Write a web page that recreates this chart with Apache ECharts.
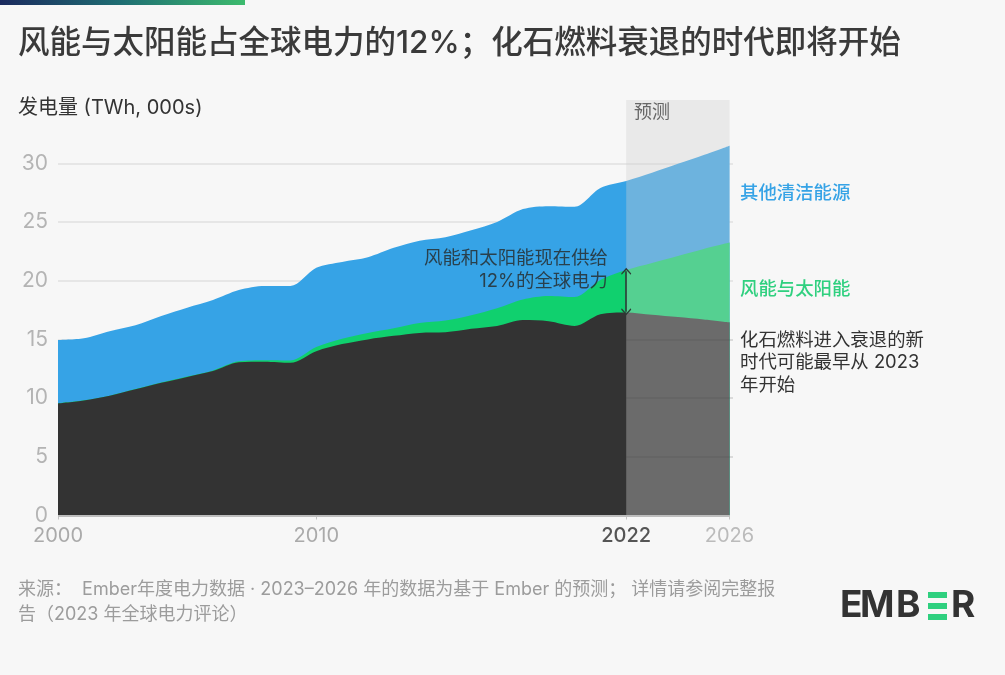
<!DOCTYPE html>
<html><head><meta charset="utf-8">
<style>html,body{margin:0;padding:0;background:#f7f7f7}#c{width:1005px;height:675px}</style>
<script src="https://cdn.jsdelivr.net/npm/echarts@6/dist/echarts.min.js"></script>
</head><body><div id="c"></div>
<script>
const years=[2000,2001,2002,2003,2004,2005,2006,2007,2008,2009,2010,2011,2012,2013,2014,2015,2016,2017,2018,2019,2020,2021,2022,2023,2024,2025,2026];
const fossil=[9.55,9.8,10.2,10.75,11.3,11.8,12.3,13.05,13.1,13.0,14.0,14.6,15.0,15.3,15.55,15.6,15.9,16.15,16.65,16.55,16.15,17.15,17.3,17.1,16.9,16.7,16.45];
const fossilPlusWindSolar=[9.56,9.81,10.21,10.77,11.33,11.84,12.36,13.13,13.22,13.2,14.35,15.05,15.55,15.95,16.4,16.6,17.05,17.65,18.4,18.7,18.6,20.05,20.9,21.5,22.1,22.7,23.25];
const total=[14.95,15.1,15.7,16.2,17.0,17.7,18.35,19.2,19.55,19.55,21.1,21.6,22.0,22.8,23.4,23.7,24.3,25.0,26.1,26.35,26.3,27.9,28.5,29.2,29.95,30.7,31.5];
const xTicks=[2000,2010,2022,2026];
const yTicks=[0,5,10,15,20,25,30];
const titleText='风能与太阳能占全球电力的12%\uFF1B化石燃料衰退的时代即将开始';
const yTitle='发电量 (TWh, 000s)';
const forecastLabel='预测';
const labelOther='其他清洁能源', labelWS='风能与太阳能';
const fossilNote=['化石燃料进入衰退的新','时代可能最早从 2023','年开始'];
const shareNote=['风能和太阳能现在供给','12%的全球电力'];
const sourceNote=['来源\uFF1A  Ember年度电力数据 · 2023–2026 年的数据为基于 Ember 的预测\uFF1B 详情请参阅完整报','告\uFF082023 年全球电力评论\uFF09'];

const CJK='Inter,"Noto Sans CJK SC","Noto Sans",sans-serif';
const LAT='Inter,"Noto Sans CJK SC",sans-serif';
const pair=a=>years.map((y,i)=>[y,a[i]]);
const area=(name,vals,color,z)=>({name,type:'line',data:pair(vals),smooth:0.3,symbol:'none',
  lineStyle:{width:0},areaStyle:{color,opacity:1},z,silent:true});
const txt=(text,x,y,font,fill,align)=>({type:'text',z:20,style:{text,x,y,font,fill,textAlign:align||'left',textVerticalAlign:'middle'}});
const chevron='path://M0 0 L10 8 L9 10 L0 3 L-9 10 L-10 8 Z';
const chart=echarts.init(document.getElementById('c'),null,{renderer:'canvas'});
chart.setOption({
  backgroundColor:'#f7f7f7',animation:false,
  grid:{left:58,right:272,top:100,bottom:159.5},
  xAxis:{type:'value',min:2000,max:2026.135,
    axisLine:{show:false},splitLine:{show:false},
    axisTick:{show:true,customValues:xTicks,length:4,lineStyle:{color:'#c4c4c4',width:1}},
    axisLabel:{customValues:xTicks,margin:10,formatter:v=>v===2022?'{d|'+v+'}':(v===2026?'{l|'+v+'}':'{g|'+v+'}'),
      rich:{d:{fontFamily:LAT,fontSize:20,color:'#555',fontWeight:500},g:{fontFamily:LAT,fontSize:20,color:'#aaa'},l:{fontFamily:LAT,fontSize:20,color:'#bbb'}}}},
  yAxis:{type:'value',min:0,max:35.39,axisLine:{show:false},axisTick:{show:false},
    splitLine:{show:false},
    axisLabel:{customValues:yTicks,margin:10,fontFamily:LAT,fontSize:21,color:'#b4b4b4'}},
  series:[
    {name:'grid',type:'line',data:[[2000,0]],symbol:'none',lineStyle:{width:0},z:1,silent:true,
      markLine:{z:1,silent:true,symbol:'none',label:{show:false},
        data:yTicks.slice(1).map(v=>[{coord:[2000,v],lineStyle:{color:'#e6e6e6',width:2,type:'solid'}},{coord:[2026.135,v]}])}},
    area('其他清洁能源',total,'#36a3e6',2),
    area('风能与太阳能',fossilPlusWindSolar,'#10d06e',3),
    area('化石燃料',fossil,'#333333',4),
    {name:'overlay',type:'line',data:[[2022,0]],symbol:'none',lineStyle:{width:0},z:5,silent:true,
      markArea:{z:10,silent:true,itemStyle:{color:'rgba(208,208,208,0.36)'},data:[[{xAxis:2022,yAxis:0},{xAxis:2026,yAxis:35.39}]]},
      markLine:{z:11,silent:true,symbol:'none',label:{show:false},
        data:[
          [{coord:[2000,0],lineStyle:{color:'#bdbdbd',width:2,type:'solid'}},{coord:[2026,0]}],
          [{coord:[2022,5],lineStyle:{color:'rgba(0,0,0,0.05)',width:2,type:'solid'}},{coord:[2026.135,5]}],
          [{coord:[2022,10],lineStyle:{color:'rgba(0,0,0,0.05)',width:2,type:'solid'}},{coord:[2026.135,10]}],
          [{coord:[2022,15],lineStyle:{color:'rgba(0,0,0,0.05)',width:2,type:'solid'}},{coord:[2026.135,15]}]
        ]}},
    {name:'arrow',type:'line',data:[[2022,17.3],[2022,20.9]],symbol:'none',lineStyle:{width:0},z:6,silent:true,
      markLine:{z:12,silent:true,label:{show:false},symbol:[chevron,chevron],symbolSize:[10,7],
        lineStyle:{color:'#2e3a36',width:1.6,type:'solid'},
        data:[[{coord:[2022,17.35]},{coord:[2022,20.8]}]]}}
  ],
  graphic:[
    {type:'rect',z:20,shape:{x:0,y:0,width:245,height:5},style:{fill:new echarts.graphic.LinearGradient(0,0,1,0,[{offset:0,color:'#1b2a5e'},{offset:0.5,color:'#1f6f73'},{offset:1,color:'#3dbb6e'}])}},
    txt(titleText,18,44,'500 31.5px '+CJK,'#3a3a3a'),
    txt(yTitle,18,108,'400 20px '+CJK,'#333'),
    txt(forecastLabel,634,113,'400 18px '+CJK,'#666'),
    txt(labelOther,740,193,'500 18.4px '+CJK,'#36a3e6'),
    txt(labelWS,740,289,'500 18.4px '+CJK,'#2fd07f'),
    ...fossilNote.map((t,i)=>txt(t,740,340+i*22.5,'400 18.4px '+CJK,'#333')),
    ...shareNote.map((t,i)=>txt(t,608,258+i*23,'400 18.4px '+CJK,'rgba(40,50,55,0.88)','right')),
    ...sourceNote.map((t,i)=>txt(t,18,590+i*25,'400 18px '+CJK,'#9c9c9c')),
    txt('E',840,606,'700 37px Inter,sans-serif','#333'),
    txt('M',860,606,'700 37px Inter,sans-serif','#333'),
    txt('B',896,606,'700 37px Inter,sans-serif','#333'),
    txt('R',951,606,'700 37px Inter,sans-serif','#333'),
    {type:'rect',z:20,shape:{x:928,y:592,width:19,height:6},style:{fill:'#2fd07f'}},
    {type:'rect',z:20,shape:{x:928,y:603,width:19,height:6},style:{fill:'#2fd07f'}},
    {type:'rect',z:20,shape:{x:928,y:614,width:19,height:6},style:{fill:'#2fd07f'}}
  ]
});
</script></body></html>
